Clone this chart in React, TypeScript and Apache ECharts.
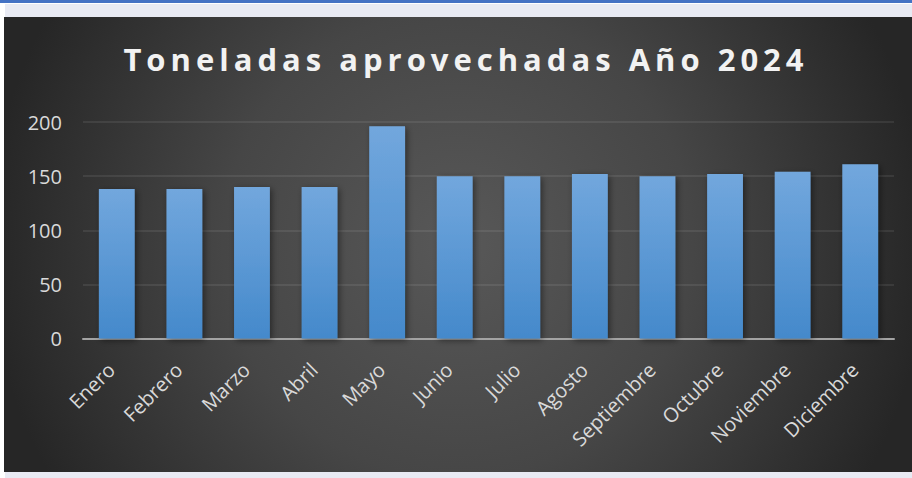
import React, { useEffect, useRef } from 'react';
import * as echarts from 'echarts';

const TITLE = 'Toneladas aprovechadas Año 2024';
const categories = ['Enero', 'Febrero', 'Marzo', 'Abril', 'Mayo', 'Junio', 'Julio', 'Agosto', 'Septiembre', 'Octubre', 'Noviembre', 'Diciembre'];
const values = [138, 138, 140, 140, 196, 150, 150, 152, 150, 152, 154, 161];
const yMin = 0;
const yMax = 200;
const yInterval = 50;

export default function App() {
  const ref = useRef<HTMLDivElement>(null);
  useEffect(() => {
    const el = ref.current!;
    const chart = echarts.init(el, null, { renderer: 'svg' });
    chart.setOption({
      animation: false,
      backgroundColor: '#ffffff',
      graphic: [
        { type: 'rect', z: -10, silent: true, shape: { x: 5, y: 4, width: 907, height: 474 }, style: { fill: '#e8eaf3' } },
        { type: 'rect', z: -9, silent: true, shape: { x: 0, y: 0, width: 912, height: 3 }, style: { fill: '#4472c4' } },
        {
          type: 'rect', z: -8, silent: true,
          shape: { x: 4, y: 17, width: 908, height: 455 },
          style: {
            fill: new echarts.graphic.RadialGradient(458, 244, 470, [
              { offset: 0, color: '#585858' },
              { offset: 0.5, color: '#464646' },
              { offset: 1, color: '#262626' },
            ], true),
          },
        },
        {
          type: 'text', z: 10, silent: true,
          style: {
            text: TITLE,
            x: 466, y: 59,
            textAlign: 'center', textVerticalAlign: 'middle',
            fill: '#f2f2f2',
            font: 'bold 31px "Open Sans"',
            shadowBlur: 4, shadowColor: 'rgba(0,0,0,0.6)', shadowOffsetX: 1, shadowOffsetY: 2,
          },
        },
      ],
      grid: { left: 83, right: 18, top: 122, bottom: 139.5, containLabel: false, outerBoundsMode: 'none' },
      xAxis: {
        type: 'category',
        data: categories,
        axisLine: { show: true, lineStyle: { color: '#a3a3a3', width: 2 } },
        axisTick: { show: false },
        axisLabel: { interval: 0, rotate: 45, color: '#d9d9d9', fontSize: 20, fontFamily: '"Open Sans"', margin: 22, padding: [0, 8, 0, 0] },
      },
      yAxis: {
        type: 'value',
        min: yMin, max: yMax, interval: yInterval,
        axisLine: { show: false },
        axisTick: { show: false },
        splitLine: { lineStyle: { color: 'rgba(255,255,255,0.08)', width: 2 } },
        axisLabel: { color: '#d9d9d9', fontSize: 20, fontFamily: '"Open Sans"', margin: 21 },
      },
      series: [{
        type: 'bar',
        data: values,
        barWidth: '53%',
        itemStyle: {
          color: new echarts.graphic.LinearGradient(0, 0, 0, 1, [
            { offset: 0, color: '#72a7dd' },
            { offset: 1, color: '#4489cb' },
          ]),
          shadowBlur: 6, shadowColor: 'rgba(0,0,0,0.45)', shadowOffsetX: 2, shadowOffsetY: 2,
        },
      }],
    });
    const applySpacing = () => {
      el.querySelectorAll('text').forEach((t) => {
        if (t.textContent === TITLE) {
          t.setAttribute('letter-spacing', '5');
          (t as unknown as HTMLElement).style.letterSpacing = '5px';
        }
      });
    };
    applySpacing();
    chart.on('finished', applySpacing);
    return () => chart.dispose();
  }, []);
  return <div ref={ref} style={{ position: 'fixed', left: 0, top: 0, width: 912, height: 478 }} />;
}
